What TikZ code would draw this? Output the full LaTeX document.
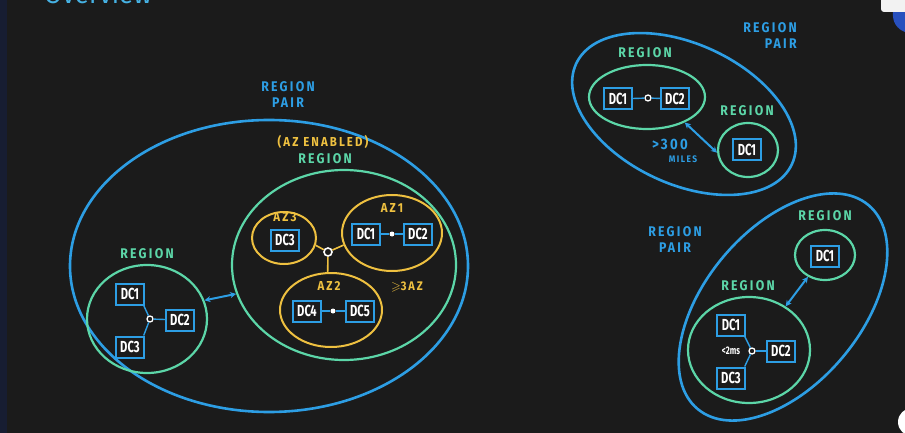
\documentclass[tikz,border=0pt]{standalone}
\usepackage{amssymb}
\usepackage{fontspec}
\setmainfont{Fira Sans}
\newfontfamily\handfont[FakeStretch=0.88, LetterSpace=16]{Fira Sans}
\newfontfamily\dcfont[FakeStretch=0.7]{Fira Sans}
\usetikzlibrary{shapes.geometric, arrows.meta}
\definecolor{bgdark}{RGB}{27,27,27}
\definecolor{stripnavy}{RGB}{23,29,50}
\definecolor{pairblue}{RGB}{45,158,228}
\definecolor{regiongreen}{RGB}{92,214,168}
\definecolor{azyellow}{RGB}{238,192,64}
\definecolor{titleblue}{RGB}{70,178,228}
\definecolor{camblue}{RGB}{40,80,190}

\begin{document}
\begin{tikzpicture}[x=1pt, y=-1pt,
  pairring/.style={ellipse, draw=pairblue, line width=2.6pt, inner sep=0pt},
  regionring/.style={ellipse, draw=regiongreen, line width=2.2pt, inner sep=0pt},
  azring/.style={ellipse, draw=azyellow, line width=2pt, inner sep=0pt},
  dcbox/.style={draw=pairblue, line width=2pt, fill=bgdark, text=white,
    font=\dcfont\bfseries\fontsize{16}{16}\selectfont,
    minimum width=28pt, minimum height=21pt, inner sep=0pt},
  caption/.style={font=\handfont\bfseries\fontsize{14}{15}\selectfont, align=center, inner sep=0pt},
  smallcap/.style={font=\handfont\bfseries\fontsize{13}{13}\selectfont, inner sep=0pt},
  hubring/.style={circle, draw=white, fill=bgdark, line width=1.3pt, inner sep=0pt, minimum size=6pt},
  hubdot/.style={circle, fill=white, inner sep=0pt, minimum size=5pt},
  dclink/.style={pairblue, line width=1.4pt},
  azlink/.style={azyellow, line width=1.6pt},
  gaparrow/.style={{Stealth[length=6pt,width=6pt]}-{Stealth[length=6pt,width=6pt]}, pairblue, line width=2pt}
]
  \useasboundingbox (0,0) rectangle (905,433);
  \fill[bgdark] (0,0) rectangle (905,433);
  \fill[stripnavy] (0,0) rectangle (7,433);
  \clip (0,0) rectangle (905,433);
  \node[anchor=base west, text=titleblue, font=\fontsize{26}{26}\selectfont, inner sep=0pt] (title) at (44,4) {Overview};

  % left region pair
  \node[pairring, minimum width=398pt, minimum height=292pt] (pairL) at (269,266) {};
  \node[caption, text=pairblue] (pairLcap) at (288,95) {REGION\\[1pt]PAIR};
  \node[regionring, minimum width=120pt, minimum height=108pt] (regL) at (147,319) {};
  \node[caption, text=regiongreen] (regLcap) at (147,254) {REGION};
  \node[dcbox] (lDC1) at (130,294) {DC1};
  \node[dcbox] (lDC2) at (180,320) {DC2};
  \node[dcbox] (lDC3) at (130,347) {DC3};
  \node[hubring] (lhub) at (150,319) {};
  \draw[dclink] (lhub) -- (lDC1.-40);
  \draw[dclink] (lhub) -- (lDC2);
  \draw[dclink] (lhub) -- (lDC3.40);

  \node[regionring, minimum width=224pt, minimum height=190pt] (regAZ) at (344,265) {};
  \node[caption, text=azyellow, font=\handfont\bfseries\fontsize{13}{14}\selectfont] (azcap) at (323,142) {(AZ ENABLED)};
  \node[caption, text=regiongreen] (regAZcap) at (325,159) {REGION};
  \draw[gaparrow] (regL.18) -- (regAZ.195);

  \node[azring, minimum width=64pt, minimum height=52pt] (az3) at (284,238) {};
  \node[smallcap, text=azyellow] (az3cap) at (285,217) {AZ3};
  \node[dcbox] (a3DC3) at (285,240) {DC3};
  \node[azring, minimum width=100pt, minimum height=76pt] (az1) at (392,233) {};
  \node[smallcap, text=azyellow] (az1cap) at (392,208) {AZ1};
  \node[dcbox] (a1DC1) at (366,234) {DC1};
  \node[dcbox] (a1DC2) at (418,234) {DC2};
  \node[hubdot] (a1dot) at (392,234) {};
  \draw[dclink] (a1DC1) -- (a1dot) -- (a1DC2);
  \node[azring, minimum width=102pt, minimum height=74pt] (az2) at (331,310) {};
  \node[smallcap, text=azyellow] (az2cap) at (329,286) {AZ2};
  \node[dcbox] (a2DC4) at (307,311) {DC4};
  \node[dcbox] (a2DC5) at (360,311) {DC5};
  \node[hubdot] (a2dot) at (333,311) {};
  \draw[dclink] (a2DC4) -- (a2dot) -- (a2DC5);
  \node[hubring, minimum size=8pt, line width=1.6pt] (azhub) at (328,252) {};
  \draw[azlink] (azhub) -- (az3.-13);
  \draw[azlink] (azhub) -- (az1.194);
  \draw[azlink] (azhub) -- (az2.95);
  \node[smallcap, text=azyellow, font=\handfont\bfseries\fontsize{12.5}{13}\selectfont] (azmin) at (407,287) {$\geqslant$3AZ};

  % top right region pair
  \node[pairring, rotate=-25, minimum width=238pt, minimum height=140pt] (pairTR) at (684,114) {};
  \node[caption, text=pairblue, align=right] (pairTRcap) at (770,36) {REGION\\[1pt]PAIR};
  \node[regionring, minimum width=116pt, minimum height=64pt] (regTR1) at (647,97) {};
  \node[caption, text=regiongreen] (regTR1cap) at (645,53) {REGION};
  \node[dcbox] (t1DC1) at (618,99) {DC1};
  \node[dcbox] (t1DC2) at (675,99) {DC2};
  \node[hubring] (t1hub) at (648,98) {};
  \draw[dclink] (t1DC1) -- (t1hub) -- (t1DC2);
  \node[regionring, minimum width=60pt, minimum height=54pt] (regTR2) at (748,150) {};
  \node[caption, text=regiongreen] (regTR2cap) at (747,111) {REGION};
  \node[dcbox] (t2DC1) at (747,150) {DC1};
  \draw[gaparrow] (regTR1.-34) -- (regTR2.185);
  \node[text=pairblue, font=\handfont\bfseries\fontsize{15}{15}\selectfont, inner sep=0pt] (milesnum) at (670,144) {>300};
  \node[text=pairblue, font=\handfont\bfseries\fontsize{9.5}{9.5}\selectfont, inner sep=0pt] (milestxt) at (683,159) {MILES};

  % bottom right region pair
  \node[pairring, rotate=50, minimum width=266pt, minimum height=156pt] (pairBR) at (783,307) {};
  \node[caption, text=pairblue] (pairBRcap) at (675,240) {REGION\\[1pt]PAIR};
  \node[regionring, minimum width=60pt, minimum height=50pt] (regBR1) at (825,255) {};
  \node[caption, text=regiongreen] (regBR1cap) at (825,216) {REGION};
  \node[dcbox] (b1DC1) at (825,256) {DC1};
  \node[regionring, minimum width=122pt, minimum height=106pt] (regBR2) at (749,350) {};
  \node[caption, text=regiongreen] (regBR2cap) at (748,286) {REGION};
  \node[dcbox] (b2DC1) at (731,325) {DC1};
  \node[dcbox] (b2DC2) at (781,351) {DC2};
  \node[dcbox] (b2DC3) at (731,378) {DC3};
  \node[hubring] (b2hub) at (752,351) {};
  \draw[dclink] (b2hub) -- (b2DC1.-40);
  \draw[dclink] (b2hub) -- (b2DC2);
  \draw[dclink] (b2hub) -- (b2DC3.40);
  \node[text=white, font=\dcfont\bfseries\fontsize{11}{11}\selectfont, inner sep=0pt] (latency) at (731,351) {<2ms};
  \draw[gaparrow] (regBR2.50) -- (regBR1.232);

  % screen corners
  \fill[camblue] (905,8) -- (893,12) .. controls (892,22) and (897,29) .. (905,32) -- cycle;
  \fill[white!90!gray, rounded corners=3pt] (881,-6) rectangle (912,12);
  \fill[white] (912,422) circle (14);
\end{tikzpicture}
\end{document}
